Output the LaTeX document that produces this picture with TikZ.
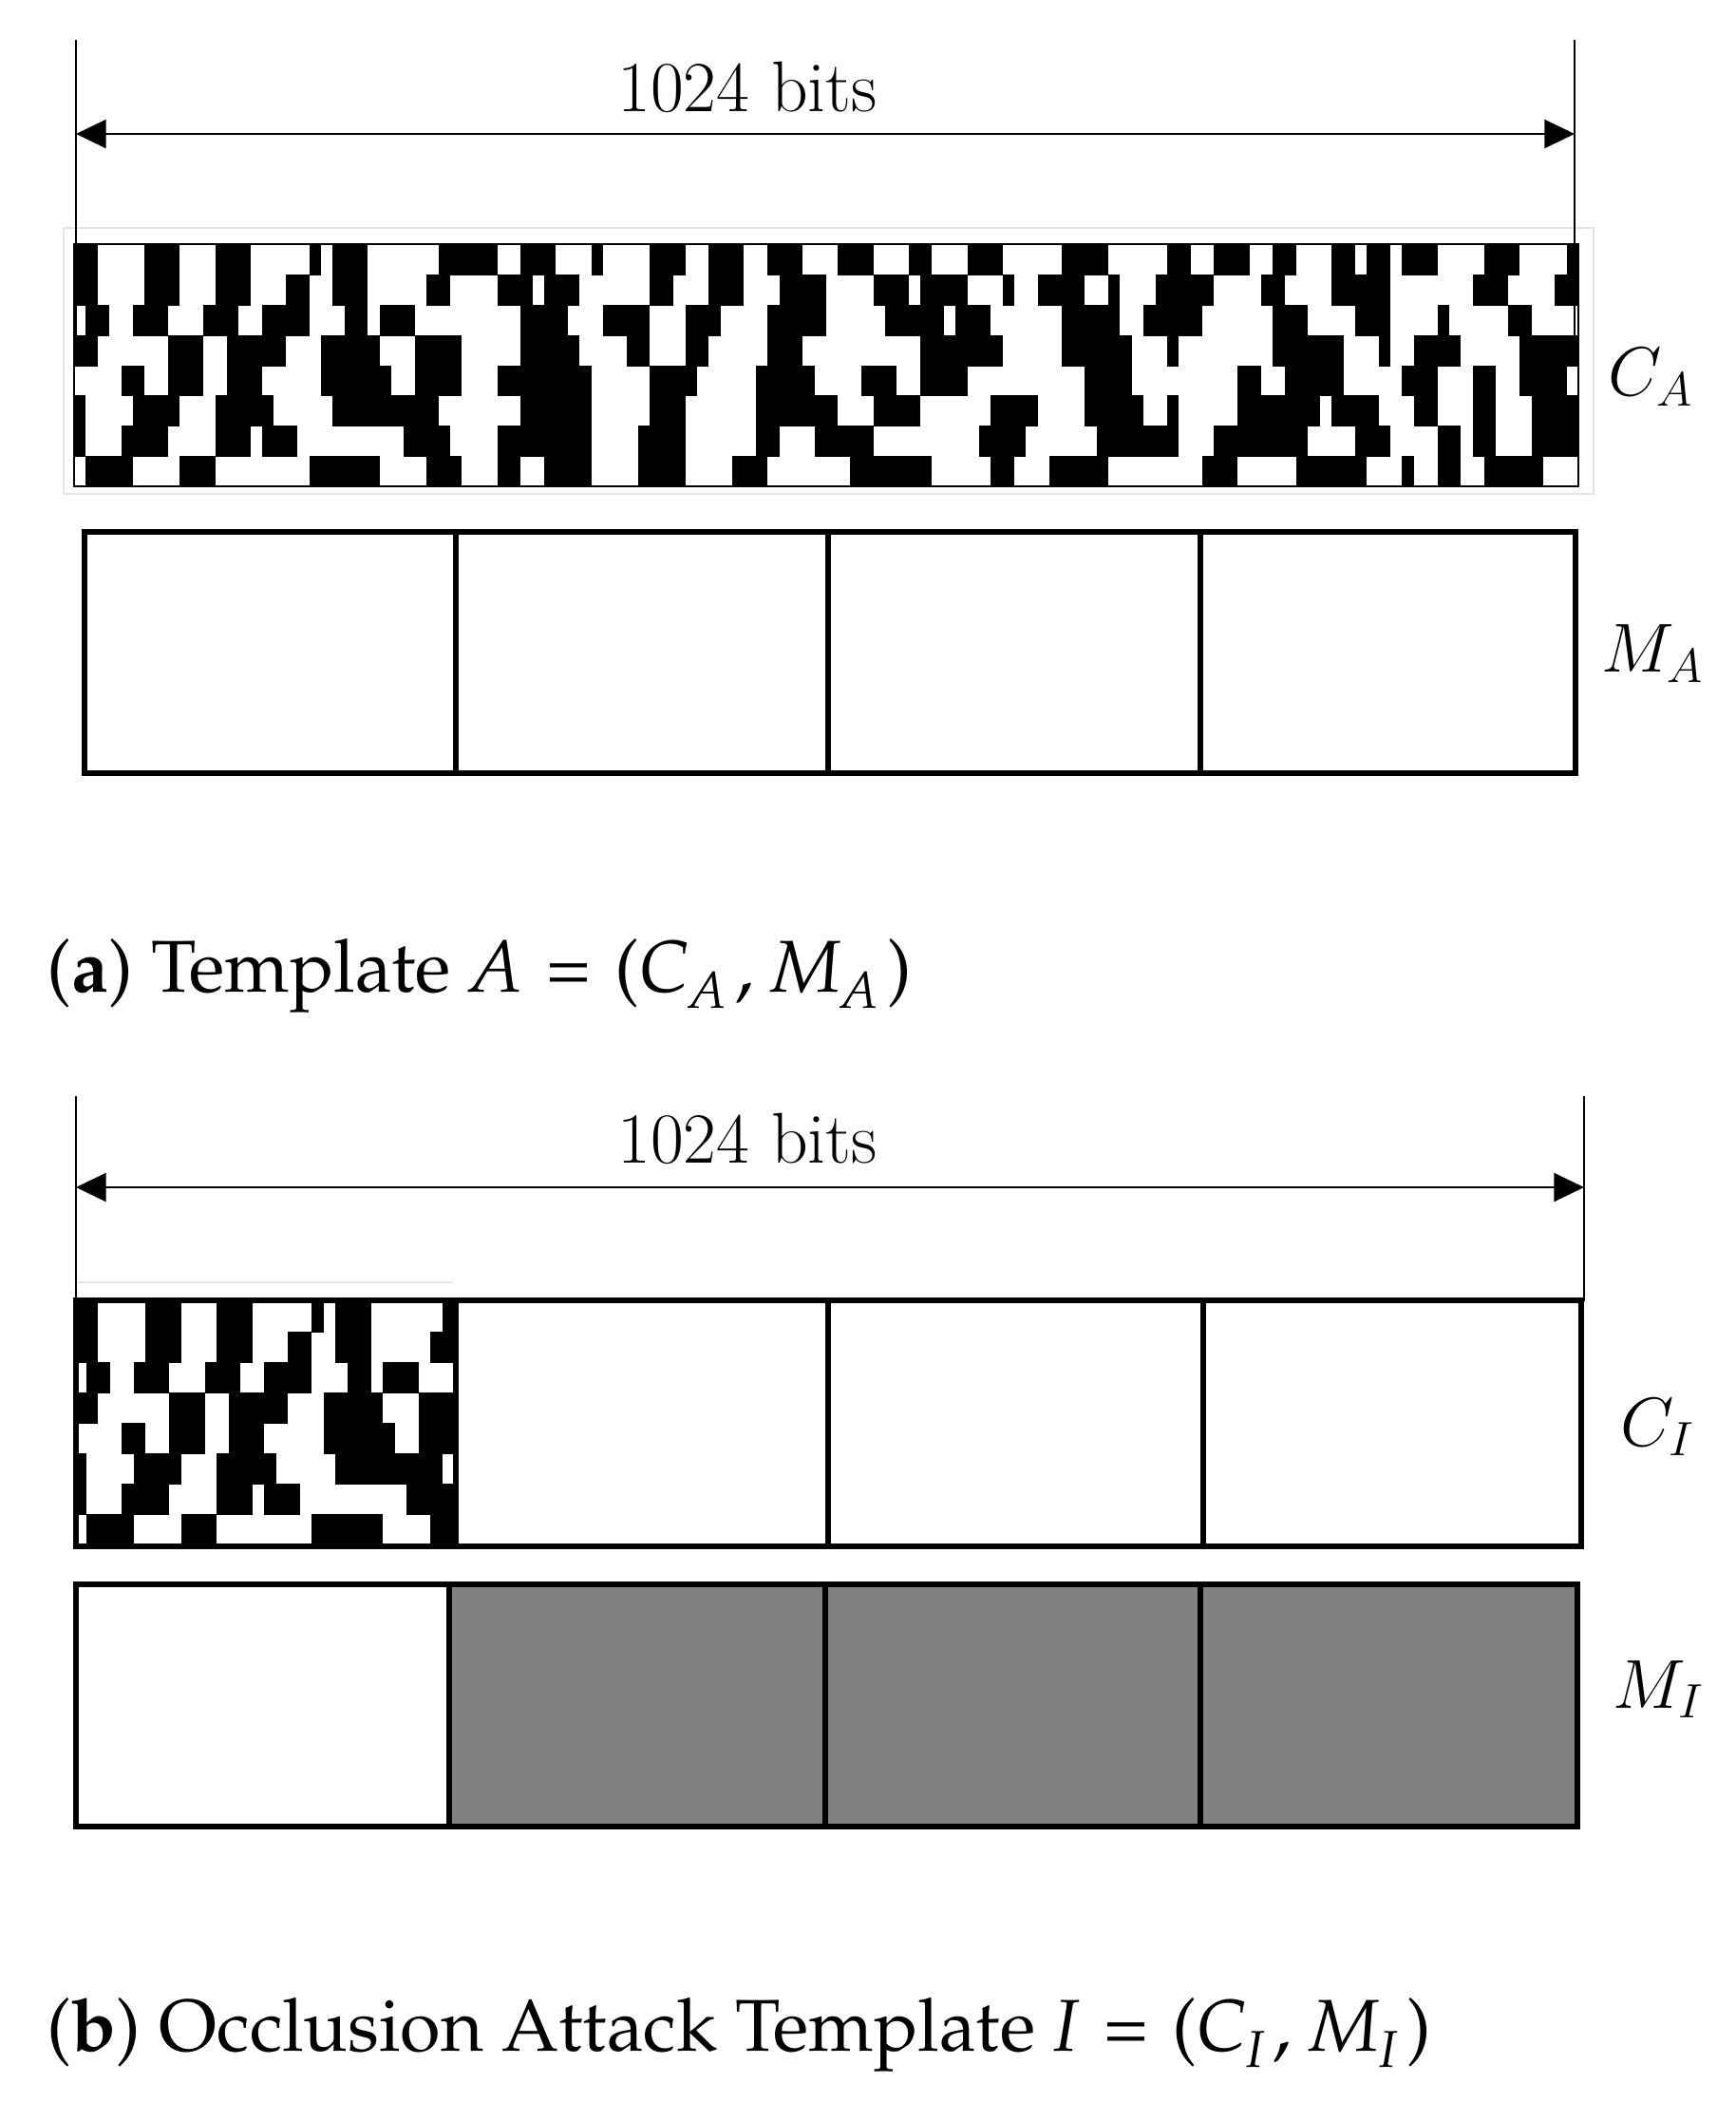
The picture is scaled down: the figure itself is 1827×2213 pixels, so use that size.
\documentclass[tikz,border=0pt]{standalone}
\usetikzlibrary{arrows.meta}

\newcommand{\capfont}{\fontencoding{T1}\fontfamily{ppl}\fontsize{22}{26}\selectfont}
\newcommand{\capsub}[1]{\raisebox{-5pt}{\fontsize{15.5}{18}\selectfont\textit{#1}}\hspace{0.12em}}
\newcommand{\capeq}{\hspace{0.33em}=\hspace{0.33em}}

% 8 rows x 128 bits, black runs as from/to columns
\newcommand{\iriscode}{%
  \foreach \r/\runs in {%
      0/{0/2,6/9,12/15,20/21,22/25,31/36,38/41,44/45,49/52,54/57,59/62,65/68,71/73,76/79,84/88,93/95,97/100,102/104,107/109,110/112,113/116,120/123,127/128},
      1/{0/2,6/9,12/15,18/20,22/25,30/32,36/39,40/43,49/51,54/57,60/64,68/71,72/76,79/80,82/86,88/89,92/97,101/103,107/112,119/122,126/128},
      2/{1/3,5/8,11/14,16/20,23/25,26/29,38/42,45/49,52/55,59/64,69/74,75/78,84/89,91/96,102/105,109/112,116/117,122/124},
      3/{0/2,8/11,13/18,21/26,29/33,38/43,47/49,52/54,59/62,72/79,84/90,93/94,102/108,111/112,114/118,123/128},
      4/{4/6,8/11,13/16,21/27,29/33,36/44,49/53,58/63,67/70,72/76,86/90,99/101,103/108,113/116,119/121,123/127},
      5/{0/1,5/9,12/17,22/31,38/44,49/52,58/65,68/72,78/82,86/91,93/94,99/106,107/111,114/116,119/121,124/128},
      6/{0/1,4/8,12/15,16/19,28/32,36/44,48/52,58/60,63/68,77/81,87/94,97/105,109/112,116/118,119/121,124/128},
      7/{1/5,9/12,20/26,30/33,36/38,40/44,48/52,56/59,66/73,78/80,83/88,96/99,104/110,113/114,116/118,120/125}}
    \foreach \a/\b in \runs
      \fill (\a,\r) rectangle (\b,\r+1.03);%
}

\begin{document}
\begin{tikzpicture}[x=0.01cm, y=-0.01cm]
\tikzstyle{dimline}=[line width=0.7pt]
\tikzstyle{dimarrow}=[line width=0.8pt,
  {Triangle[length=9pt,width=8.5pt]}-{Triangle[length=9pt,width=8.5pt]}]
\tikzstyle{maskbox}=[line width=1.8pt]
\tikzstyle{bitslabel}=[font=\fontsize{21.5}{25}\selectfont, anchor=base]
\tikzstyle{rowlabel}=[font=\fontsize{21.5}{25}\selectfont, anchor=base west, inner sep=0pt]
\tikzstyle{caption}=[font=\capfont, anchor=base west, inner sep=0pt]
\useasboundingbox (0,0) rectangle (1827,2213);

% code of template A
\draw[gray!20, line width=0.4pt] (67,240) rectangle (1678,520);
\begin{scope}[shift={(78,257)}, xscale=12.375, yscale=31.9]
  \iriscode
  \draw[line width=0.6pt] (0,0) rectangle (128,8);
\end{scope}

% length of template A
\coordinate (aTopL) at (80,42);
\coordinate (aTopR) at (1658,42);
\coordinate (aEndL) at (80,368);
\coordinate (aEndR) at (1658,360);
\coordinate (aArrL) at (80,141);
\coordinate (aArrR) at (1658,141);
\draw[dimline] (aTopL) -- (aEndL)
               (aTopR) -- (aEndR);
\draw[dimarrow] (aArrL) -- (aArrR);
\node[bitslabel] (bitsA) at (787,118) {1024 bits};

% mask of template A
\draw[maskbox] (89,560) rectangle (1659,814);
\foreach \x in {480,872,1264}
  \draw[maskbox] (\x,560) -- (\x,814);

\node[rowlabel] (CA) at (1693,417) {$C_A$};
\node[rowlabel] (MA) at (1686,708) {$M_A$};
\node[caption] (capA) at (49,1044) {(\textbf{a}) Template \textit{A}\capeq(\textit{C}\capsub{A}, \textit{M}\capsub{A})};

% length of template I
\coordinate (iTopL) at (80,1154);
\coordinate (iTopR) at (1668,1154);
\coordinate (iEndL) at (80,1480);
\coordinate (iEndR) at (1668,1370);
\coordinate (iArrL) at (80,1250);
\coordinate (iArrR) at (1668,1250);
\draw[dimline] (iTopL) -- (iEndL)
               (iTopR) -- (iEndR);
\draw[dimarrow] (iArrL) -- (iArrR);
\node[bitslabel] (bitsI) at (787,1224) {1024 bits};

% code of template I, first quarter kept
\draw[gray!20, line width=0.4pt] (82,1350) -- (477,1350);
\begin{scope}[shift={(78,1370)}, xscale=12.5, yscale=32]
  \clip (0,0) rectangle (32,8);
  \iriscode
\end{scope}
\draw[maskbox] (80,1369) rectangle (1665,1628);
\foreach \x in {480,872,1267}
  \draw[maskbox] (\x,1369) -- (\x,1628);

% mask of template I
\fill[gray] (473,1668) rectangle (1661,1923);
\draw[maskbox] (80,1668) rectangle (1661,1923);
\foreach \x in {473,869,1264}
  \draw[maskbox] (\x,1668) -- (\x,1923);

\node[rowlabel] (CI) at (1706,1522) {$C_I$};
\node[rowlabel] (MI) at (1698,1798) {$M_I$};
\node[caption] (capI) at (49,2159) {(\textbf{b}) Occlusion Attack Template \textit{I}\capeq(\textit{C}\capsub{I}, \textit{M}\capsub{I})};
\end{tikzpicture}
\end{document}
